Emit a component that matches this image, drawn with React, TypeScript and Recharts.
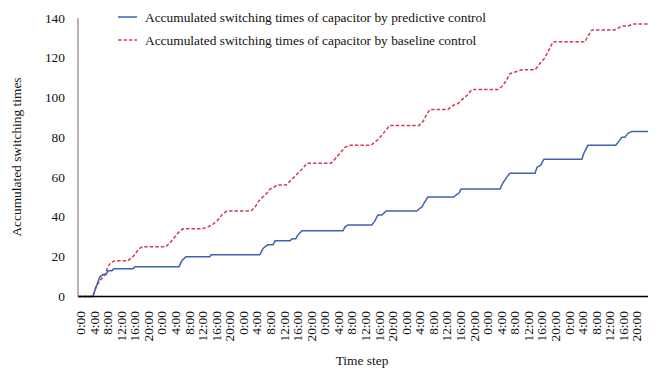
import React from 'react';
import { LineChart, Line, XAxis, YAxis, Legend } from 'recharts';

// Breakpoints of the step curves: hour of the week and accumulated switching count
const predictiveHours = [0, 4.4, 5.6, 6.5, 7.4, 8.3, 8.8, 10.0, 10.6, 16.2, 16.8, 29.8, 30.6, 31.2, 31.8, 38.9, 39.2, 53.6, 54.5, 55.1, 56.0, 57.5, 58.1, 62.5, 63.1, 64.2, 64.8, 66.0, 78.1, 78.7, 79.6, 86.6, 87.5, 88.4, 89.6, 90.8, 99.9, 100.5, 101.4, 102.0, 103.1, 110.8, 111.4, 112.3, 112.9, 124.4, 125.2, 126.4, 127.3, 134.7, 135.3, 136.4, 137.3, 148.5, 149.1, 150.3, 158.5, 159.4, 160.3, 161.2, 162.1, 163.3, 168];
const predictiveValues = [0, 0, 6, 10, 11, 11, 13, 13, 14, 14, 15, 15, 18, 19, 20, 20, 21, 21, 24, 25, 26, 26, 28, 28, 29, 29, 31, 33, 33, 35, 36, 36, 38, 41, 41, 43, 43, 44, 45, 47, 50, 50, 51, 52, 54, 54, 57, 60, 62, 62, 65, 66, 69, 69, 72, 76, 76, 78, 80, 80, 82, 83, 83];

const baselineHours = [0, 4.4, 5.3, 6.5, 7.4, 8.0, 8.8, 9.7, 10.9, 14.7, 16.2, 17.1, 18.0, 18.9, 25.9, 27.1, 28.6, 29.5, 30.9, 36.5, 38.3, 39.5, 41.0, 42.4, 43.9, 51.0, 52.2, 53.3, 54.5, 55.7, 56.6, 57.8, 58.6, 61.3, 62.5, 63.7, 64.8, 66.0, 67.5, 74.6, 75.7, 77.2, 78.7, 80.2, 86.3, 87.8, 89.0, 90.5, 91.9, 100.5, 101.7, 102.6, 103.7, 109.0, 110.5, 112.0, 113.2, 114.6, 116.1, 123.8, 125.2, 126.4, 127.3, 129.1, 130.8, 134.7, 136.1, 137.6, 138.8, 140.0, 149.4, 150.3, 151.5, 158.2, 159.4, 160.3, 162.1, 163.6, 168];
const baselineValues = [0, 0, 5, 8, 10, 11, 15, 17, 18, 18, 20, 22, 24, 25, 25, 27, 30, 32, 34, 34, 35, 36, 38, 41, 43, 43, 45, 48, 50, 52, 54, 55, 56, 56, 58, 60, 62, 64, 67, 67, 69, 72, 75, 76, 76, 78, 80, 83, 86, 86, 88, 91, 94, 94, 96, 97, 99, 101, 104, 104, 106, 109, 112, 113, 114, 114, 117, 120, 124, 128, 128, 131, 134, 134, 135, 136, 136, 137, 137];

const xTicks = [0, 4, 8, 12, 16, 20, 24, 28, 32, 36, 40, 44, 48, 52, 56, 60, 64, 68, 72, 76, 80, 84, 88, 92, 96, 100, 104, 108, 112, 116, 120, 124, 128, 132, 136, 140, 144, 148, 152, 156, 160, 164];
const yTicks = [0, 20, 40, 60, 80, 100, 120, 140];

const seriesNames = [
  'Accumulated switching times of capacitor by predictive control',
  'Accumulated switching times of capacitor by baseline control',
];

const predictiveData = predictiveHours.map((h, i) => ({ h, v: predictiveValues[i] }));
const baselineData = baselineHours.map((h, i) => ({ h, v: baselineValues[i] }));

const FONT = '"Liberation Serif", "Times New Roman", serif';
const FS = 13.4;
const BLUE = '#3b63b1';
const RED = '#d63a4f';

const XTick = (props: any) => {
  const { x, payload } = props;
  const tx = x + 2.5;
  const ty = 311;
  const h = payload.value % 24;
  return (
    <text
      x={tx}
      y={ty}
      transform={`rotate(-90 ${tx} ${ty})`}
      textAnchor="end"
      dominantBaseline="central"
      fontFamily={FONT}
      fontSize={FS}
      fill="#111"
    >
      {`${h}:00`}
    </text>
  );
};

const YTick = (props: any) => {
  const { y, payload } = props;
  return (
    <text x={65} y={y} textAnchor="end" dominantBaseline="central" fontFamily={FONT} fontSize={FS} fill="#111">
      {payload.value}
    </text>
  );
};

const LegendContent = () => (
  <svg width={420} height={50} style={{ position: 'absolute', left: 110, top: 6 }}>
    <line x1={8} y1={11} x2={27} y2={11} stroke={BLUE} strokeWidth={1.5} />
    <text x={35} y={11} dominantBaseline="central" fontFamily={FONT} fontSize={FS} fill="#111">
      {seriesNames[0]}
    </text>
    <line x1={8} y1={34} x2={27} y2={34} stroke={RED} strokeWidth={1.5} strokeDasharray="3.5 2" />
    <text x={35} y={34} dominantBaseline="central" fontFamily={FONT} fontSize={FS} fill="#111">
      {seriesNames[1]}
    </text>
  </svg>
);

export default function App() {
  return (
    <div style={{ position: 'absolute', left: 0, top: 0, width: 663, height: 378, background: '#fff' }}>
      <LineChart width={663} height={378} margin={{ top: 18, right: 15, bottom: 0, left: 0 }}>
        <XAxis
          dataKey="h"
          type="number"
          domain={[0, 168]}
          ticks={xTicks}
          interval={0}
          tick={<XTick />}
          tickLine={false}
          axisLine={{ stroke: '#000', strokeWidth: 1.3 }}
          height={81.5}
          allowDuplicatedCategory={false}
          label={{
            content: () => (
              <text x={362} y={360} textAnchor="middle" dominantBaseline="central" fontFamily={FONT} fontSize={FS} fill="#111">
                Time step
              </text>
            ),
          }}
        />
        <YAxis
          type="number"
          domain={[0, 140]}
          ticks={yTicks}
          width={78}
          tickLine={false}
          tickSize={0}
          axisLine={{ stroke: '#8c8c8c', strokeWidth: 1.3 }}
          tick={<YTick />}
          label={{
            content: () => (
              <text x={16} y={157} transform="rotate(-90 16 157)" textAnchor="middle" dominantBaseline="central" fontFamily={FONT} fontSize={FS} fill="#111">
                Accumulated switching times
              </text>
            ),
          }}
        />
        <Legend content={<LegendContent />} wrapperStyle={{ position: 'absolute', left: 0, top: 0, width: 663, height: 0 }} />
        <Line
          data={baselineData}
          dataKey="v"
          name={seriesNames[1]}
          type="linear"
          stroke={RED}
          strokeWidth={1.5}
          strokeDasharray="3.5 2"
          dot={false}
          activeDot={false}
          isAnimationActive={false}
        />
        <Line
          data={predictiveData}
          dataKey="v"
          name={seriesNames[0]}
          type="linear"
          stroke={BLUE}
          strokeWidth={1.5}
          dot={false}
          activeDot={false}
          isAnimationActive={false}
        />
      </LineChart>
    </div>
  );
}
